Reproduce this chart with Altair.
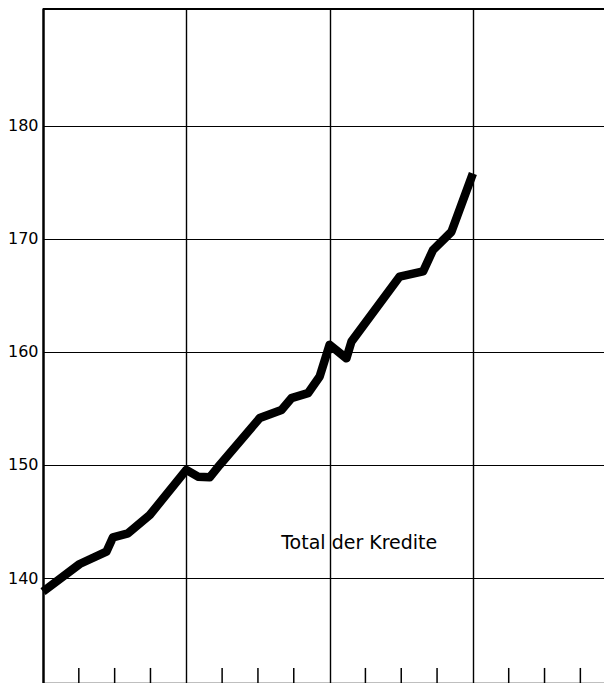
import altair as alt
import pandas as pd

# Line data (months since start of period, credit totals)
months = [0, 3.07, 5.31, 5.86, 7.12, 8.94, 12.0, 12.98, 13.96, 14.8, 18.15, 19.97,
          20.8, 22.19, 23.17, 24.0, 25.41, 25.83, 29.87, 31.83, 32.66, 34.2, 36.0]
credits = [138.8, 141.24, 142.33, 143.6, 143.95, 145.57, 149.56, 148.96, 148.9, 150.0,
           154.14, 154.86, 155.9, 156.34, 157.81, 160.62, 159.42, 160.9, 166.65, 167.1,
           169.0, 170.6, 175.76]

y_ticks = [140, 150, 160, 170, 180]
year_lines = [12, 24, 36]
quarter_ticks = [3, 6, 9, 15, 18, 21, 27, 30, 33, 39, 42, 45]
label_text = ["Total der Kredite"]
label_pos_x = [19.95]
label_pos_y = [142.56]

X_DOMAIN = [0, 46.98]
Y_DOMAIN = [130.72, 190.39]
FONT = "DejaVu Sans"

df = pd.DataFrame({"m": months, "v": credits})
qdf = pd.DataFrame({"m": quarter_ticks})
tdf = pd.DataFrame({"m": label_pos_x, "v": label_pos_y, "t": label_text})

xscale = alt.Scale(domain=X_DOMAIN, nice=False, zero=False)
yscale = alt.Scale(domain=Y_DOMAIN, nice=False, zero=False)

xaxis = alt.Axis(values=year_lines, labels=False, ticks=False, grid=True,
                 gridColor="black", gridWidth=1.4, gridOpacity=1,
                 domain=True, domainColor="black", domainWidth=1.5)
yaxis = alt.Axis(values=y_ticks, ticks=False, grid=True,
                 gridColor="black", gridWidth=1.2, gridOpacity=1,
                 domain=True, domainColor="black", domainWidth=2.5,
                 labelFont=FONT, labelFontSize=16, labelColor="black",
                 labelPadding=5, format="d")

line = alt.Chart(df).mark_line(
    color="black", strokeWidth=8.5, strokeJoin="round", strokeCap="butt"
).encode(
    x=alt.X("m:Q", scale=xscale, title=None, axis=xaxis),
    y=alt.Y("v:Q", scale=yscale, title=None, axis=yaxis),
)

qticks = alt.Chart(qdf).mark_rule(color="black", strokeWidth=1.5).encode(
    x=alt.X("m:Q", scale=xscale, title=None, axis=xaxis),
    y=alt.datum(Y_DOMAIN[0]),
    y2=alt.datum(Y_DOMAIN[0] + 1.33),
)

top_border = alt.Chart(qdf.head(1)).mark_rule(color="black", strokeWidth=2).encode(
    y=alt.value(1),
)

text = alt.Chart(tdf).mark_text(
    font=FONT, fontSize=19, color="black", align="left", baseline="alphabetic"
).encode(
    x=alt.X("m:Q", scale=xscale, title=None, axis=xaxis),
    y=alt.Y("v:Q", scale=yscale, title=None, axis=yaxis),
    text="t:N",
)

chart = alt.layer(line, qticks, top_border, text).properties(
    width=561, height=675,
    autosize=alt.AutoSizeParams(type="none"),
    padding={"left": 35, "top": 0, "right": 0, "bottom": 0},
).configure_view(stroke=None).configure(background="white")

chart.save("out.html", embed_options={"renderer": "svg", "actions": False})
